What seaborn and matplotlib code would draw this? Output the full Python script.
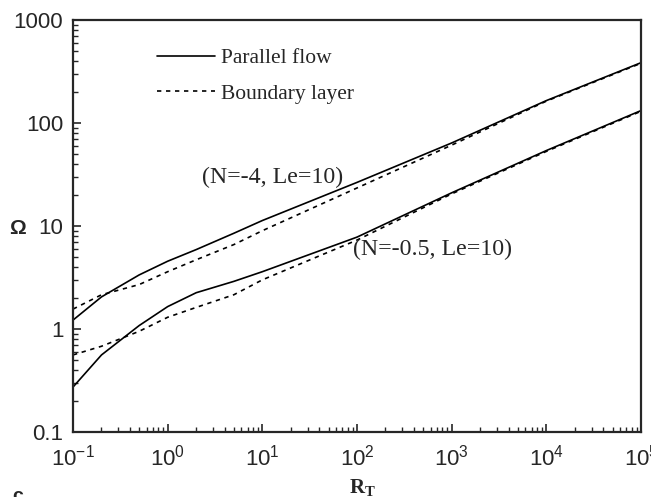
import numpy as np
import pandas as pd
import matplotlib
matplotlib.use("Agg")
import matplotlib.pyplot as plt
import seaborn as sns
from matplotlib.lines import Line2D

# ---- data ----
x_pf = [0.1, 0.2, 0.5, 1, 2, 5, 10, 100, 1000, 1e4, 1e5]
upper_parallel = [1.22, 2.05, 3.35, 4.55, 5.9, 8.5, 11.3, 26.5, 64, 165, 385]
lower_parallel = [0.273, 0.56, 1.08, 1.65, 2.25, 2.9, 3.6, 7.8, 21, 54, 132]

x_bl = [0.1, 0.2, 0.5, 1, 2, 5, 10, 100, 1000, 1e4, 1e5]
upper_boundary = [1.56, 2.15, 2.7, 3.6, 4.7, 6.6, 9.0, 23.4, 61, 163, 380]
lower_boundary = [0.56, 0.68, 0.95, 1.3, 1.62, 2.15, 3.0, 7.3, 20.5, 53, 130]

legend_labels = ["Parallel flow", "Boundary layer"]
annot_labels = ["(N=-4, Le=10)", "(N=-0.5, Le=10)"]
annot_pos = [(2.28, 29.9), (90.8, 5.9)]
xticks = [1e-1, 1e0, 1e1, 1e2, 1e3, 1e4, 1e5]
yticks = [0.1, 1, 10, 100, 1000]
ytick_labels = ["0.1", "1", "10", "100", "1000"]

sns.set_style("ticks")
plt.rcParams["font.family"] = ["Liberation Sans", "DejaVu Sans"]
plt.rcParams["mathtext.fontset"] = "custom"
plt.rcParams["mathtext.rm"] = "Liberation Sans"
plt.rcParams["mathtext.it"] = "Liberation Sans"
plt.rcParams["mathtext.bf"] = "Liberation Serif:bold"

W, H = 651, 497
fig = plt.figure(figsize=(W / 100, H / 100), dpi=100)
L, R, T, B = 73, 641, 20, 432
ax = fig.add_axes([L / W, 1 - B / H, (R - L) / W, (B - T) / H])

curves = [
    (x_pf, upper_parallel, "-"),
    (x_pf, lower_parallel, "-"),
    (x_bl, upper_boundary, "--"),
    (x_bl, lower_boundary, "--"),
]
for xs, ys, ls in curves:
    df = pd.DataFrame({"x": xs, "y": ys})
    line_kw = dict(color="black", lw=1.2)
    if ls == "--":
        line_kw["dashes"] = (2.6, 2.8)
    sns.lineplot(data=df, x="x", y="y", ax=ax, estimator=None, sort=True,
                 **line_kw)

ax.set_xscale("log")
ax.set_yscale("log")
ax.set_xlim(0.1, 1e5)
ax.set_ylim(0.1, 1000)
ax.set_xticks(xticks)
ax.set_yticks(yticks)
ax.set_yticklabels(ytick_labels)

ax.tick_params(axis="both", which="major", direction="in", length=6, width=1.2,
               labelsize=16, top=False, right=False)
ax.tick_params(axis="x", which="major", pad=9)
ax.tick_params(axis="y", which="major", pad=7)
ax.tick_params(axis="both", which="minor", direction="in", length=3.5, width=1.0,
               top=False, right=False)
for s in ax.spines.values():
    s.set_linewidth(1.6)
    s.set_visible(True)

ax.set_xlabel(r"$\mathbf{R_T}$", fontsize=15)
ax.xaxis.set_label_coords((362 - L) / (R - L), (B - 477) / (B - T))
ax.set_ylabel("Ω", rotation=0, fontsize=15, fontweight="bold", va="center", ha="center")
ax.yaxis.set_label_coords((18 - L) / (R - L), (B - 229) / (B - T))

serif = ["Liberation Serif", "DejaVu Serif"]
for lab, (xp, yp) in zip(annot_labels, annot_pos):
    ax.text(xp, yp, lab, family=serif, fontsize=17.2, ha="left", va="center")

handles = [Line2D([], [], color="black", lw=1.2),
           Line2D([], [], color="black", lw=1.2, dashes=(2.6, 2.8))]
leg = ax.legend(handles, legend_labels, loc="upper left",
                bbox_to_anchor=((157 - L) / (R - L), (B - 48) / (B - T)),
                frameon=False, prop={"family": serif, "size": 15.5},
                handlelength=2.7, handletextpad=0.25, labelspacing=0.72,
                borderpad=0, borderaxespad=0)

fig.text(12 / W, 1 - 501 / H, "c", fontsize=14, fontweight="bold", va="baseline")

fig.savefig("out.png", dpi=100)
